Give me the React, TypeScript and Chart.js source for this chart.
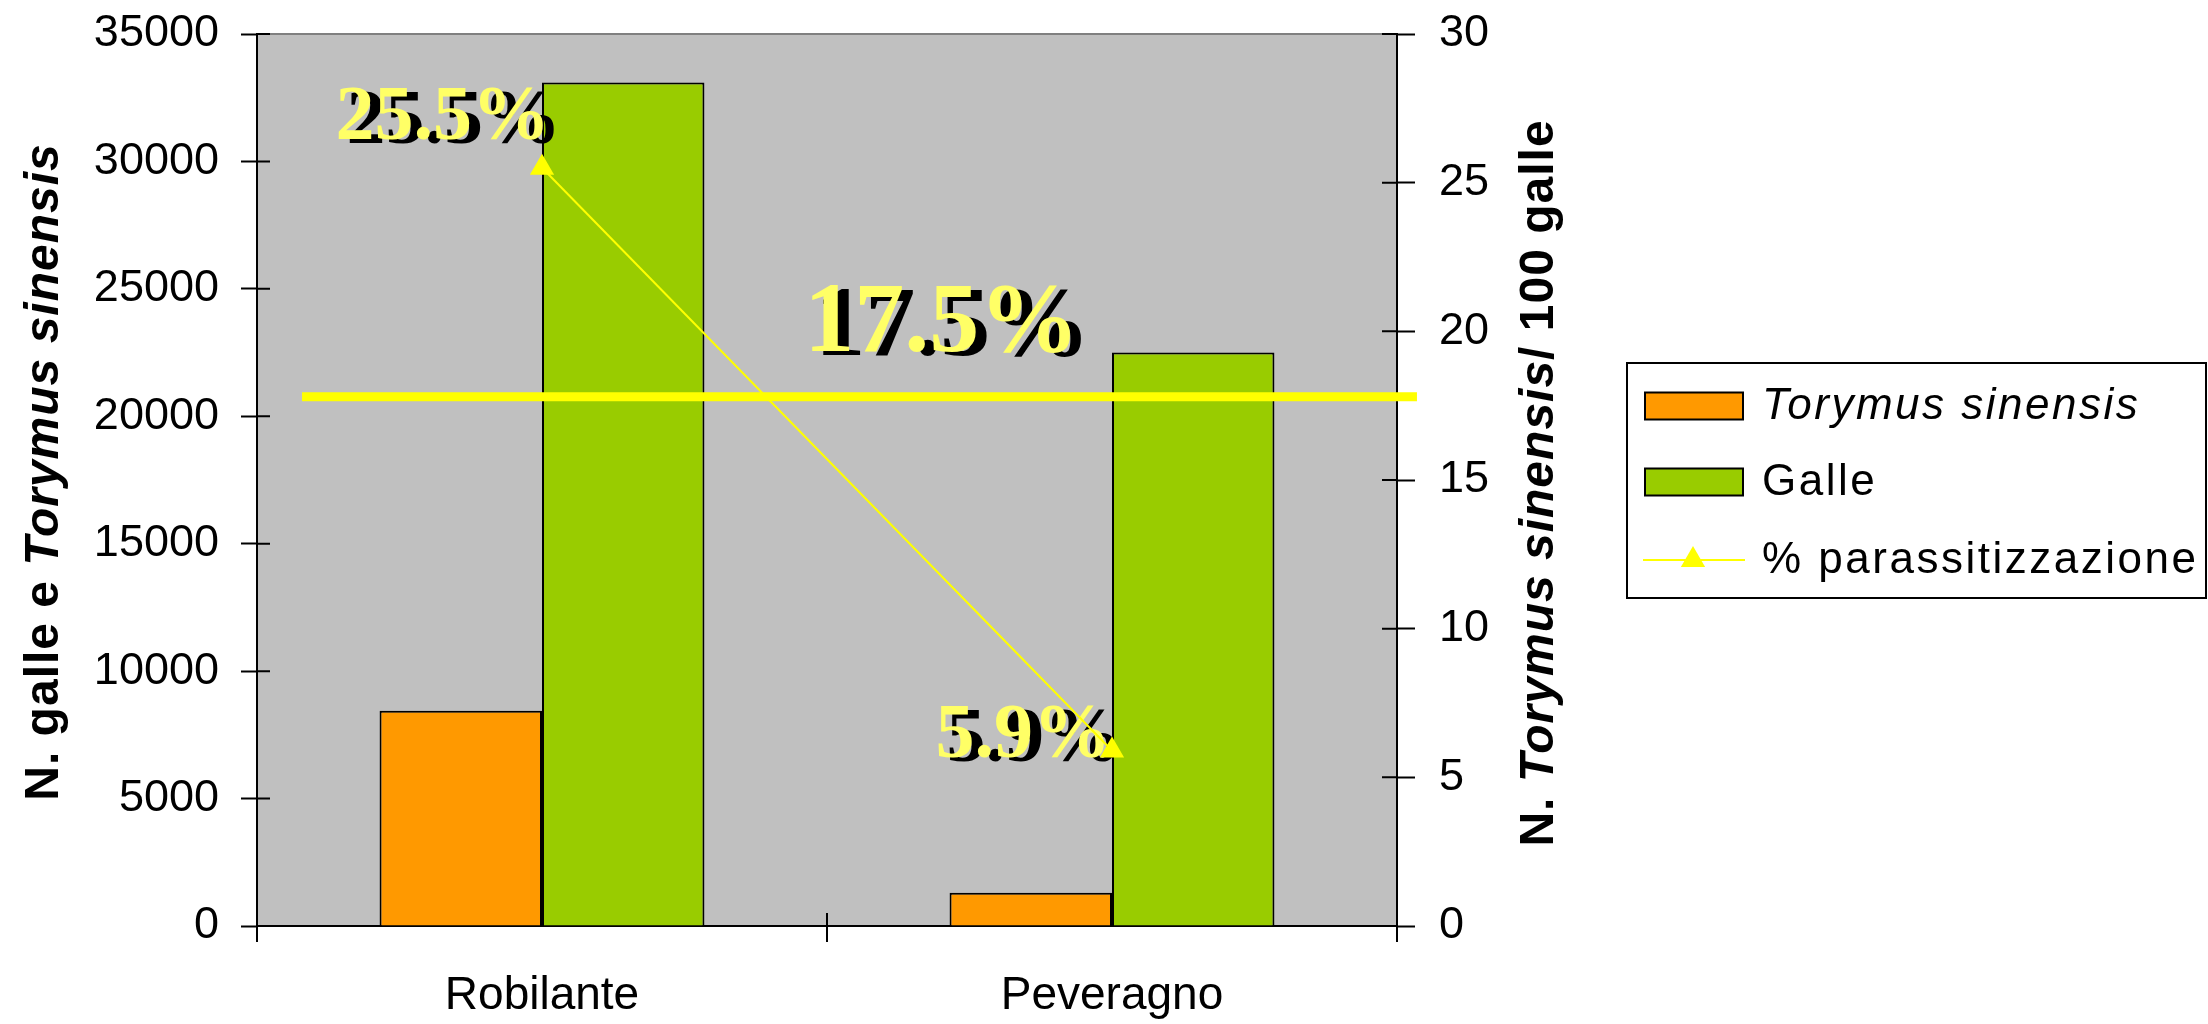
import React, { useEffect, useRef } from 'react';
import { Chart, registerables } from 'chart.js';

Chart.register(...registerables);

// ---------- data ----------
const CATEGORIES = ['Robilante', 'Peveragno'];
const TORYMUS = [8450, 1300];
const GALLE = [33100, 22500];
const PARASSIT = [25.5, 5.9];
const SERIES_LABELS = ['Torymus sinensis', 'Galle', '% parassitizzazione'];
const SERIES_ITALIC = [true, false, false];
const LEFT_RANGE = [0, 35000, 5000];
const RIGHT_RANGE = [0, 30, 5];
const REF_LINE_VALUE = 17.8;
const REF_LINE_LABEL = '17.5%';
const LEFT_TITLE: [string, boolean][] = [['N. galle e ', false], ['Torymus sinensis', true]];
const RIGHT_TITLE: [string, boolean][] = [['N. ', false], ['Torymus sinensis', true], ['/ 100 galle', false]];

// ---------- style ----------
const W = 2208;
const H = 1024;
const ORANGE = '#FF9900';
const GREEN = '#99CC00';
const YELLOW = '#FFFF00';
const LABEL_YELLOW = '#FFFF66';
const PLOT_BG = '#C0C0C0';
const SANS = '"Liberation Sans", Arial, sans-serif';
const SERIF = '"Liberation Serif", "Times New Roman", serif';
const REF_FROM = -0.421;
const REF_TO = 1.535;
const REF_LABEL_AT = 0.46;
const POINT_LABEL_OFFSETS = [
  [8, -29],
  [-1, 6],
];

function shadowText(ctx: CanvasRenderingContext2D, text: string, x: number, y: number, font: string) {
  ctx.save();
  ctx.font = font;
  ctx.textAlign = 'left';
  ctx.textBaseline = 'alphabetic';
  ctx.fillStyle = '#000';
  ctx.fillText(text, x + 11, y + 4);
  ctx.fillStyle = LABEL_YELLOW;
  ctx.fillText(text, x, y);
  ctx.restore();
}

function drawRichRotated(
  ctx: CanvasRenderingContext2D,
  pieces: [string, boolean][],
  baseX: number,
  centerY: number,
  size: number,
  spacing: number
) {
  ctx.save();
  ctx.translate(baseX, centerY);
  ctx.rotate(-Math.PI / 2);
  (ctx as any).letterSpacing = spacing + 'px';
  ctx.fillStyle = '#000';
  ctx.textAlign = 'left';
  ctx.textBaseline = 'alphabetic';
  const fonts = pieces.map(([, it]) => `${it ? 'italic ' : ''}bold ${size}px ${SANS}`);
  const widths = pieces.map(([t], i) => {
    ctx.font = fonts[i];
    return ctx.measureText(t).width;
  });
  const total = widths.reduce((a, b) => a + b, 0);
  let x = -total / 2;
  pieces.forEach(([t], i) => {
    ctx.font = fonts[i];
    ctx.fillText(t, x, 0);
    x += widths[i];
  });
  ctx.restore();
}

const decorPlugin = {
  id: 'decor',
  beforeDraw(chart: any) {
    const { ctx, chartArea: a } = chart;
    ctx.save();
    ctx.fillStyle = PLOT_BG;
    ctx.fillRect(a.left, a.top, a.right - a.left, a.bottom - a.top);
    ctx.strokeStyle = '#808080';
    ctx.lineWidth = 2;
    ctx.beginPath();
    ctx.moveTo(a.left, a.top);
    ctx.lineTo(a.right, a.top);
    ctx.stroke();
    ctx.restore();
  },
  beforeDatasetDraw(chart: any, args: any) {
    if (args.index !== 2) return;
    const { ctx } = chart;
    const xs = chart.scales.x;
    const y1 = chart.scales.y1;
    const yy = y1.getPixelForValue(REF_LINE_VALUE);
    const x0 = xs.getPixelForValue(REF_FROM);
    const x1 = xs.getPixelForValue(REF_TO);
    ctx.save();
    ctx.fillStyle = YELLOW;
    ctx.fillRect(x0, yy - 4.5, x1 - x0, 9);
    ctx.restore();
    shadowText(ctx, REF_LINE_LABEL, xs.getPixelForValue(REF_LABEL_AT), yy - 46, `bold 100px ${SERIF}`);
    const meta = chart.getDatasetMeta(2);
    const font = `bold 78px ${SERIF}`;
    meta.data.forEach((pt: any, i: number) => {
      const txt = `${PARASSIT[i]}%`;
      ctx.save();
      ctx.font = font;
      const w = ctx.measureText(txt).width;
      ctx.restore();
      const [dx, dy] = POINT_LABEL_OFFSETS[i];
      shadowText(ctx, txt, pt.x + dx - w, pt.y + dy, font);
    });
  },
  afterDraw(chart: any) {
    const { ctx, chartArea: a } = chart;
    const yl = chart.scales.y;
    const yr = chart.scales.y1;
    const xs = chart.scales.x;
    ctx.save();
    ctx.strokeStyle = '#000';
    ctx.lineWidth = 2;
    ctx.beginPath();
    yl.ticks.forEach((t: any) => {
      const p = yl.getPixelForValue(t.value);
      ctx.moveTo(a.left, p);
      ctx.lineTo(a.left + 13, p);
    });
    yr.ticks.forEach((t: any) => {
      const p = yr.getPixelForValue(t.value);
      ctx.moveTo(a.right - 15, p);
      ctx.lineTo(a.right, p);
    });
    const mid = xs.getPixelForValue(0.5);
    ctx.moveTo(mid, a.bottom - 13);
    ctx.lineTo(mid, a.bottom);
    ctx.stroke();
    ctx.restore();

    // axis titles
    drawRichRotated(ctx, LEFT_TITLE, 58, 472, 48, 1);
    drawRichRotated(ctx, RIGHT_TITLE, 1553, 483, 48, 1);

    // legend
    const lx = a.right + 230;
    const ly = 363;
    const lw = 579;
    const lh = 235;
    ctx.save();
    ctx.strokeStyle = '#000';
    ctx.lineWidth = 2;
    ctx.strokeRect(lx, ly, lw, lh);
    const rows = [ly + 43, ly + 119, ly + 197];
    const ds = chart.data.datasets;
    [0, 1, 2].forEach((di, r) => {
      const cy = rows[r];
      const d = ds[di];
      if (d.type === 'line') {
        ctx.strokeStyle = d.borderColor;
        ctx.lineWidth = 2;
        ctx.beginPath();
        ctx.moveTo(lx + 16, cy);
        ctx.lineTo(lx + 118, cy);
        ctx.stroke();
        const cx = lx + 66;
        const rad = 14;
        ctx.fillStyle = d.pointBackgroundColor;
        ctx.beginPath();
        for (let k = 0; k < 3; k++) {
          const ang = (k * 2 * Math.PI) / 3;
          const px = cx + Math.sin(ang) * rad;
          const py = cy - Math.cos(ang) * rad;
          if (k === 0) ctx.moveTo(px, py);
          else ctx.lineTo(px, py);
        }
        ctx.closePath();
        ctx.fill();
      } else {
        ctx.fillStyle = d.backgroundColor;
        ctx.fillRect(lx + 18, cy - 13.5, 98, 27);
        ctx.strokeStyle = '#000';
        ctx.lineWidth = 2;
        ctx.strokeRect(lx + 18, cy - 13.5, 98, 27);
      }
      ctx.fillStyle = '#000';
      ctx.font = `${SERIES_ITALIC[di] ? 'italic ' : ''}44px ${SANS}`;
      (ctx as any).letterSpacing = '2.5px';
      ctx.textAlign = 'left';
      ctx.textBaseline = 'middle';
      ctx.fillText(d.label, lx + 135, cy + 1);
      (ctx as any).letterSpacing = '0px';
    });
    ctx.restore();
  },
};

export default function App() {
  const ref = useRef<HTMLCanvasElement>(null);

  useEffect(() => {
    const canvas = ref.current;
    if (!canvas) return;
    const tickFont = { family: SANS, size: 45 };
    const chart = new Chart(canvas, {
      type: 'bar',
      data: {
        labels: CATEGORIES,
        datasets: [
          {
            type: 'bar',
            label: SERIES_LABELS[0],
            data: TORYMUS,
            backgroundColor: ORANGE,
            borderColor: '#000',
            borderWidth: 2,
            yAxisID: 'y',
            order: 1,
            categoryPercentage: 0.57,
            barPercentage: 1,
          },
          {
            type: 'bar',
            label: SERIES_LABELS[1],
            data: GALLE,
            backgroundColor: GREEN,
            borderColor: '#000',
            borderWidth: 2,
            yAxisID: 'y',
            order: 1,
            categoryPercentage: 0.57,
            barPercentage: 1,
          },
          {
            type: 'line',
            label: SERIES_LABELS[2],
            data: PARASSIT,
            borderColor: YELLOW,
            borderWidth: 2,
            pointStyle: 'triangle',
            pointRadius: 14,
            pointBackgroundColor: YELLOW,
            pointBorderWidth: 0,
            pointBorderColor: YELLOW,
            fill: false,
            tension: 0,
            yAxisID: 'y1',
            order: 0,
          } as any,
        ],
      },
      options: {
        responsive: false,
        animation: false,
        devicePixelRatio: 1,
        layout: { padding: { left: 0, top: 34, right: W - 1397 - 100, bottom: 0 } },
        plugins: {
          legend: { display: false },
          tooltip: { enabled: false },
        },
        scales: {
          x: {
            type: 'category',
            offset: true,
            grid: {
              offset: true,
              drawOnChartArea: false,
              drawTicks: true,
              tickLength: 16,
              tickColor: '#000',
              tickWidth: 2,
              color: '#000',
              lineWidth: 2,
            },
            border: { display: true, color: '#000', width: 2 },
            ticks: { color: '#000', font: { family: SANS, size: 46 }, padding: 27, maxRotation: 0 },
            afterFit: (s: any) => {
              s.height = H - 926;
              s.paddingLeft = 0;
              s.paddingRight = 0;
            },
          },
          y: {
            type: 'linear',
            position: 'left',
            min: LEFT_RANGE[0],
            max: LEFT_RANGE[1],
            grid: {
              drawOnChartArea: false,
              drawTicks: true,
              tickLength: 16,
              tickColor: '#000',
              tickWidth: 2,
              color: '#000',
            },
            border: { display: true, color: '#000', width: 2 },
            ticks: {
              stepSize: LEFT_RANGE[2],
              color: '#000',
              font: tickFont,
              padding: 22,
              callback: (v: any) => String(v),
            },
            afterFit: (s: any) => {
              s.width = 257;
              s.paddingTop = 0;
              s.paddingBottom = 0;
            },
          },
          y1: {
            type: 'linear',
            position: 'right',
            min: RIGHT_RANGE[0],
            max: RIGHT_RANGE[1],
            grid: {
              drawOnChartArea: false,
              drawTicks: true,
              tickLength: 18,
              tickColor: '#000',
              tickWidth: 2,
              color: '#000',
            },
            border: { display: true, color: '#000', width: 2 },
            ticks: {
              stepSize: RIGHT_RANGE[2],
              color: '#000',
              font: tickFont,
              padding: 24,
              callback: (v: any) => String(v),
            },
            afterFit: (s: any) => {
              s.width = 100;
              s.paddingTop = 0;
              s.paddingBottom = 0;
            },
          },
        },
      },
      plugins: [decorPlugin],
    } as any);
    return () => chart.destroy();
  }, []);

  return (
    <div style={{ position: 'fixed', left: 0, top: 0, width: W, height: H, background: '#fff' }}>
      <canvas ref={ref} width={W} height={H} style={{ display: 'block', width: W, height: H }} />
    </div>
  );
}
